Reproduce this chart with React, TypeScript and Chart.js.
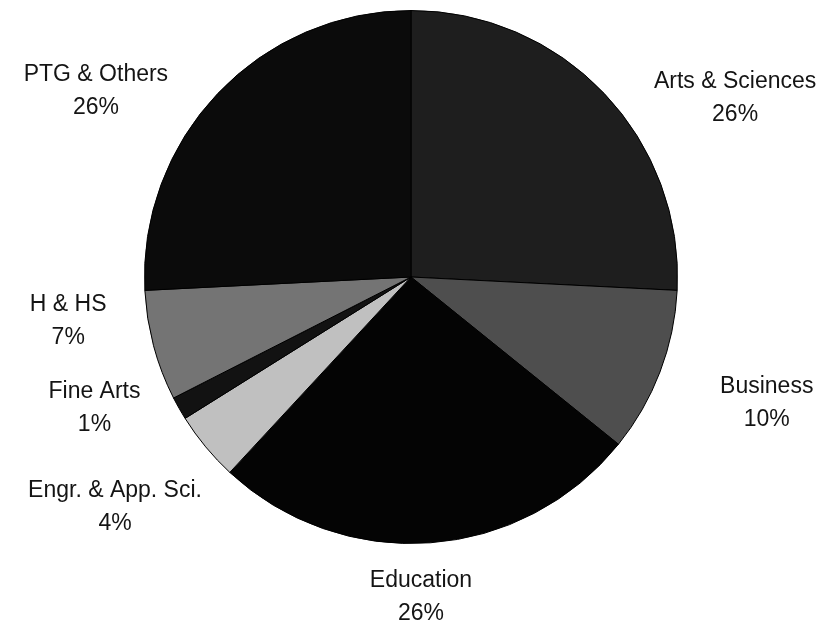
import React, { useEffect, useRef } from "react";
import { Chart, registerables } from "chart.js";

Chart.register(...registerables);

const categories = [
  "Arts & Sciences",
  "Business",
  "Education",
  "Engr. & App. Sci.",
  "Fine Arts",
  "H & HS",
  "PTG & Others",
];
const shares = [25.8, 10.0, 26.1, 4.2, 1.4, 6.7, 25.8];
const sliceColors = ["#1e1e1e", "#4e4e4e", "#040404", "#c0c0c0", "#121212", "#747474", "#0b0b0b"];
// label nudges (px) relative to point on the slice mid-angle outside the pie
const labelNudge: [number, number][] = [
  [73, 60],
  [32, 3],
  [-15, -25],
  [-29, 9],
  [-15, -40],
  [-8, -45],
  [-64, 53],
];

const labelPlugin = {
  id: "outerLabels",
  afterDatasetsDraw(chart: any) {
    const ctx = chart.ctx;
    const meta = chart.getDatasetMeta(0);
    const data = chart.data.datasets[0].data as number[];
    const total = data.reduce((a, b) => a + b, 0);
    ctx.save();
    ctx.font = "23px 'Liberation Sans', Arial, sans-serif";
    ctx.fillStyle = "#141414";
    ctx.textAlign = "center";
    ctx.textBaseline = "middle";
    meta.data.forEach((arc: any, i: number) => {
      const { x, y, startAngle, endAngle, outerRadius } = arc.getProps(
        ["x", "y", "startAngle", "endAngle", "outerRadius"],
        true
      );
      const mid = (startAngle + endAngle) / 2;
      const R = outerRadius + 80;
      const px = x + Math.cos(mid) * R + labelNudge[i][0];
      const py = y + Math.sin(mid) * R + labelNudge[i][1];
      const pct = Math.round((data[i] / total) * 100) + "%";
      ctx.fillText(chart.data.labels[i], px, py - 16.5);
      ctx.fillText(pct, px, py + 16.5);
    });
    ctx.restore();
  },
};

export default function App() {
  const ref = useRef<HTMLCanvasElement | null>(null);
  useEffect(() => {
    document.body.style.margin = "0";
    const chart = new Chart(ref.current as HTMLCanvasElement, {
      type: "pie",
      data: {
        labels: categories,
        datasets: [
          {
            data: shares,
            backgroundColor: sliceColors,
            borderColor: "#000000",
            borderWidth: 1,
          },
        ],
      },
      options: {
        animation: false,
        responsive: false,
        maintainAspectRatio: false,
        rotation: 0,
        layout: { padding: { left: 144, right: 152, top: 10, bottom: 93 } },
        plugins: {
          legend: { display: false },
          tooltip: { enabled: false },
          title: { display: false },
        },
      },
      plugins: [labelPlugin],
    });
    return () => chart.destroy();
  }, []);
  return (
    <div style={{ width: 830, height: 637, background: "#ffffff" }}>
      <canvas ref={ref} width={830} height={637} />
    </div>
  );
}
